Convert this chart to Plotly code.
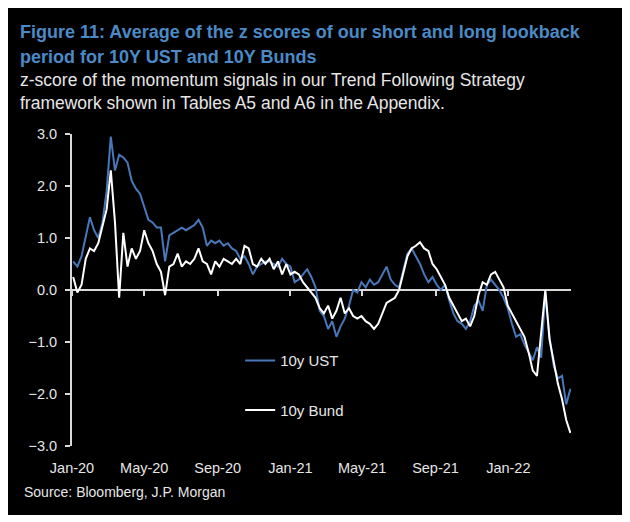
import pandas as pd
import plotly.graph_objects as go

# Weekly observation dates (Fridays)
dates = pd.date_range("2020-01-03", "2022-04-15", freq="W-FRI")

ust_10y = [
    0.55, 0.45, 0.65, 1.0, 1.4, 1.15, 1.0, 1.3, 1.9, 2.95,
    2.3, 2.6, 2.55, 2.45, 2.1, 1.95, 1.85, 1.6, 1.35, 1.3,
    1.2, 1.2, 0.55, 1.05, 1.1, 1.15, 1.2, 1.15, 1.2, 1.25,
    1.35, 1.2, 0.85, 0.95, 0.9, 0.95, 0.85, 0.9, 0.8, 0.75,
    0.6, 0.65, 0.5, 0.3, 0.45, 0.5, 0.55, 0.55, 0.5, 0.45,
    0.6, 0.5, 0.45, 0.15, 0.2, 0.3, 0.4, 0.25, 0.05, -0.4,
    -0.5, -0.75, -0.6, -0.9, -0.7, -0.55, -0.3, 0.0, -0.05, 0.15,
    0.05, 0.2, 0.1, 0.15, 0.3, 0.45, 0.2, 0.1, 0.05, 0.35,
    0.7, 0.8, 0.65, 0.5, 0.3, 0.15, 0.25, 0.1, 0.0, 0.1,
    -0.2, -0.45, -0.6, -0.65, -0.75, -0.6, -0.3, -0.2, -0.4, 0.1,
    0.2, 0.1, 0.0, -0.15, -0.35, -0.65, -0.9, -0.85, -1.05, -1.2,
    -1.35, -1.1, -1.3, -0.05, -0.9, -1.45, -1.7, -1.65, -2.2, -1.9,
]

bund_10y = [
    0.25, -0.05, 0.1, 0.6, 0.8, 0.75, 0.9, 1.2, 1.55, 2.3,
    1.3, -0.15, 1.1, 0.45, 0.8, 0.6, 0.75, 1.15, 0.9, 0.75,
    0.5, 0.35, -0.1, 0.45, 0.5, 0.7, 0.45, 0.55, 0.5, 0.6,
    0.8, 0.55, 0.5, 0.3, 0.55, 0.45, 0.6, 0.55, 0.5, 0.6,
    0.5, 0.85, 0.8, 0.5, 0.45, 0.6, 0.5, 0.6, 0.4, 0.55,
    0.3, 0.5, 0.3, 0.35, 0.3, 0.15, 0.05, -0.05, -0.15, -0.35,
    -0.45, -0.3, -0.55, -0.4, -0.15, -0.45, -0.35, -0.5, -0.55, -0.5,
    -0.6, -0.65, -0.75, -0.65, -0.45, -0.25, -0.2, -0.15, 0.0, 0.3,
    0.65, 0.8, 0.85, 0.92, 0.8, 0.75, 0.5, 0.4, 0.25, 0.1,
    -0.15, -0.3, -0.45, -0.6, -0.55, -0.7, -0.5, -0.1, 0.15, 0.1,
    0.3, 0.35, 0.2, 0.05, -0.3, -0.45, -0.6, -0.75, -0.9, -1.2,
    -1.55, -1.65, -0.8, 0.0, -0.95, -1.4, -1.8, -2.1, -2.5, -2.75,
]

y_ticks = [-3, -2, -1, 0, 1, 2, 3]
x_range = ["2020-01-01", "2022-04-16"]

FONT = "Liberation Sans, Arial, sans-serif"
BLUE_LINE = "#4878ba"
TITLE_BLUE = "#4a8ac6"
TXT = "#e6e6e6"

fig = go.Figure()
fig.add_trace(go.Scatter(
    x=dates, y=ust_10y, name="10y UST", mode="lines",
    line=dict(color=BLUE_LINE, width=2), legendgroup="a",
    xaxis="x", yaxis="y",
))
fig.add_trace(go.Scatter(
    x=dates, y=bund_10y, name="10y Bund", mode="lines",
    line=dict(color="#ffffff", width=2), legendgroup="b",
    xaxis="x2", yaxis="y",
))

fig.update_layout(
    width=622, height=514,
    margin=dict(l=64, r=59, t=126, b=76),
    paper_bgcolor="#ffffff",
    plot_bgcolor="#000000",
    font=dict(family=FONT, color=TXT, size=13),
    showlegend=True,
    legend=dict(
        x=0.337, y=0.326, xanchor="left", yanchor="top",
        bgcolor="rgba(0,0,0,0)", font=dict(size=15, color=TXT),
        tracegroupgap=27, traceorder="grouped",
    ),
    xaxis=dict(
        range=x_range, type="date",
        tick0="2020-01-01", dtick="M4", tickformat="%b-%y",
        showgrid=False, zeroline=False, showline=False,
        ticks="", ticklabelstandoff=11,
        tickfont=dict(size=14.5, color=TXT),
    ),
    xaxis2=dict(
        range=x_range, type="date", overlaying="x", anchor="free",
        position=0.5, side="bottom",
        tick0="2020-01-01", dtick="M4",
        showgrid=False, zeroline=False, showline=False,
        ticks="outside", ticklen=5, tickcolor="#d9d9d9", tickwidth=1.5,
        showticklabels=False,
    ),
    yaxis=dict(
        range=[-3, 3], tickvals=y_ticks, tickformat=".1f",
        showgrid=False, zeroline=True, zerolinecolor="#d9d9d9",
        zerolinewidth=1.5,
        showline=True, linecolor="#d9d9d9", linewidth=2,
        ticks="outside", ticklen=5, tickcolor="#d9d9d9", tickwidth=1.5,
        ticklabelstandoff=5,
        tickfont=dict(size=14.5, color=TXT),
    ),
    shapes=[dict(
        type="rect", xref="paper", yref="paper",
        x0=-0.13, x1=1.108, y0=-0.221, y1=1.41,
        fillcolor="#000000", line=dict(width=0), layer="below",
    )],
)

def note(text, x, y, size, color, bold=False):
    if bold:
        text = "<b>" + text + "</b>"
    fig.add_annotation(
        text=text, x=x, y=y, xref="paper", yref="paper",
        xanchor="left", yanchor="middle", showarrow=False,
        font=dict(family=FONT, size=size, color=color),
    )

note("Figure 11: Average of the z scores of our short and long lookback",
     -0.108, 1.327, 18, TITLE_BLUE, bold=True)
note("period for 10Y UST and 10Y Bunds", -0.108, 1.247, 18, TITLE_BLUE, bold=True)
note("z-score of the momentum signals in our Trend Following Strategy",
     -0.108, 1.173, 17.5, TXT)
note("framework shown in Tables A5 and A6 in the Appendix.",
     -0.108, 1.099, 17.5, TXT)
note("Source: Bloomberg, J.P. Morgan", -0.100, -0.147, 14, TXT)

fig.write_html("out.html")
